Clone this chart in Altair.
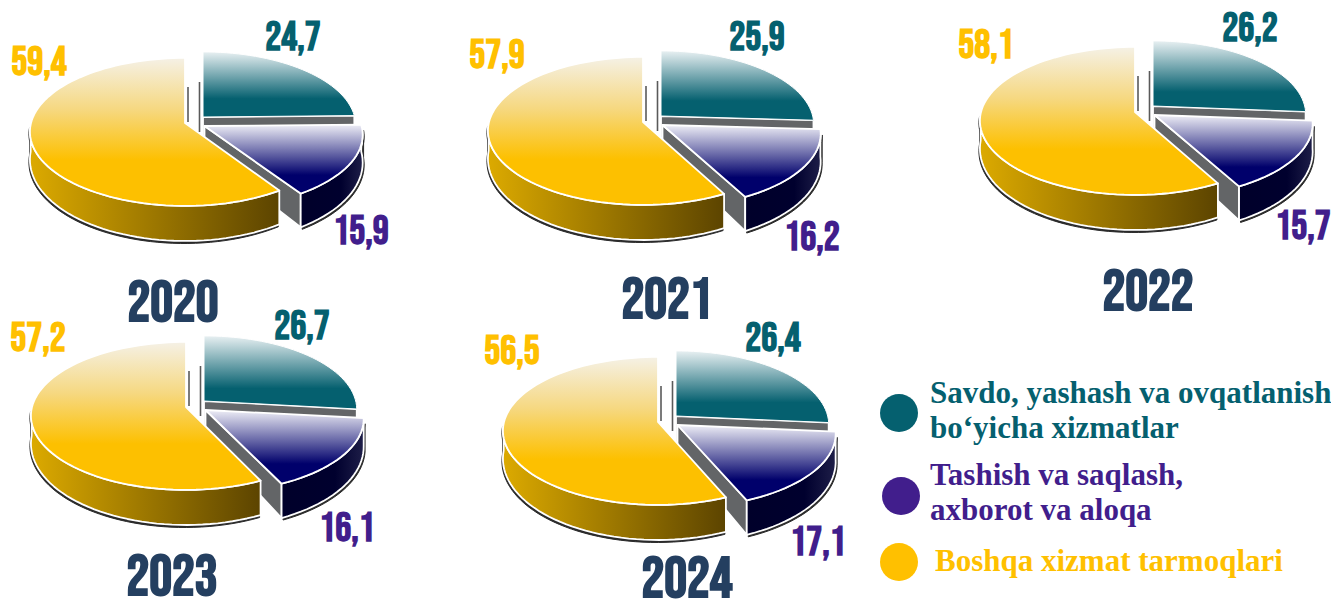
import math
import altair as alt
import pandas as pd

YEARS = ["2020", "2021", "2022", "2023", "2024"]
TRADE = [24.7, 25.9, 26.2, 26.7, 26.4]
TRANSPORT = [15.9, 16.2, 15.7, 16.1, 17.1]
OTHER = [59.4, 57.9, 58.1, 57.2, 56.5]
LEGEND = [
    ["Savdo, yashash va ovqatlanish", "bo‘yicha xizmatlar"],
    ["Tashish va saqlash,", "axborot va aloqa"],
    ["Boshqa xizmat tarmoqlari"],
]

TEAL, PURPLE, GOLD, NAVY = "#05606f", "#411e8c", "#ffc000", "#243f60"

# --- layout (pixel space of the picture) ---
APEX = [(185, 123), (643, 122), (1135, 112), (186, 407), (658, 422)]
TRADE_POS = [(293, 38), (757, 38), (1250, 29), (302, 327), (773, 339)]
OTHER_POS = [(39, 63), (497, 56), (986, 46), (38, 339), (512, 352)]
TRANS_POS = [(361, 232), (812, 238), (1303, 227), (347, 529), (818, 543)]
YEAR_POS = [(173, 303.5), (667, 300.5), (1148, 292.5), (172, 578), (687, 580)]
RX, RY, K, DEPTH = 154, 74, 0.12, 27
OFF_TEAL, OFF_PURPLE = (18, -6), (19.5, 3)
SCALE_TEAL, SCALE_PURPLE = 0.985, 1.02
STEPS = 72


def proj(c, a, s=1.0):
    u, v = math.sin(a), -math.cos(a)
    return c[0] + s * RX * u * (1 + K * v), c[1] + RY * v * (1 + K * v), DEPTH * (1 + 0.3 * v)


def arc(c, a0, a1, s=1.0):
    n = max(2, int(abs(a1 - a0) / (2 * math.pi) * STEPS * 2))
    return [proj(c, a0 + (a1 - a0) * i / n, s) for i in range(n + 1)]


rows = []


def add(face, pie, pts):
    for i, (x, y) in enumerate(pts):
        rows.append({"face": face, "pie": pie, "i": i, "x": x, "y": y})


def wall(face, pie, c, a0, a1, s=1.0, dx=0.0, dy=0.0):
    pts = arc(c, a0, a1, s)
    add(face, pie, [(p[0] + dx, p[1] + dy) for p in pts] +
        [(p[0] + dx, p[1] + p[2] + dy) for p in reversed(pts)])


def top(face, pie, c, a0, a1, s=1.0):
    add(face, pie, [c] + [(p[0], p[1]) for p in arc(c, a0, a1, s)])


def edge(face, pie, c, a, s=1.0):
    p = proj(c, a, s)
    add(face, pie, [c, (p[0], p[1]), (p[0], p[1] + p[2]), (c[0], c[1] + DEPTH)])


for n, y in enumerate(YEARS):
    total = TRADE[n] + TRANSPORT[n] + OTHER[n]
    a1 = 2 * math.pi * TRADE[n] / total
    a2 = a1 + 2 * math.pi * TRANSPORT[n] / total
    c = APEX[n]
    ct = (c[0] + OFF_TEAL[0], c[1] + OFF_TEAL[1])
    cp = (c[0] + OFF_PURPLE[0], c[1] + OFF_PURPLE[1])
    edge("teal_edge", y, ct, a1, SCALE_TEAL)
    top("teal_top", y, ct, 0, a1, SCALE_TEAL)
    wall("shadow", y, cp, a1 + 0.05, a2, SCALE_PURPLE, 1.5, 2)
    wall("shadow", y + "o", c, a2, 1.5 * math.pi - 0.02, 1.0, -1, 2.5)
    edge("purple_edge", y, cp, a2, SCALE_PURPLE)
    wall("purple_wall", y, cp, max(a1, math.pi / 2 * 0.95), a2, SCALE_PURPLE)
    top("purple_top", y, cp, a1, a2, SCALE_PURPLE)
    wall("gold_wall", y, c, a2, 1.5 * math.pi - 0.02)
    top("gold_top", y, c, a2, 2 * math.pi)
    add("line", y + "a", [(c[0] + 3, c[1] - 36), (c[0] + 3, c[1] - 1)])
    add("line", y + "b", [(c[0] + 14.5, c[1] - 41), (c[0] + 14.5, c[1] + 9)])

df = pd.DataFrame(rows)

X = alt.X("x:Q", scale=alt.Scale(domain=[8, 1331], nice=False, zero=False), axis=None)
Y = alt.Y("y:Q", scale=alt.Scale(domain=[8, 601], reverse=True, nice=False, zero=False), axis=None)


def grad(stops, horizontal=False):
    return {
        "gradient": "linear",
        "x1": 0, "y1": 0,
        "x2": 1 if horizontal else 0, "y2": 0 if horizontal else 1,
        "stops": [{"offset": o, "color": col} for o, col in stops],
    }


def face(name, fill, stroke="#ffffff", sw=1.8):
    return (
        alt.Chart(df[df.face == name])
        .mark_line(fill=fill, stroke=stroke, strokeWidth=sw, interpolate="linear-closed", strokeJoin="round")
        .encode(x=X, y=Y, detail="pie:N", order="i:Q")
    )


GREY = "#636567"
layers = [
    face("teal_edge", GREY),
    face("teal_top", grad([(0, "#e8f0f2"), (0.72, TEAL), (1, TEAL)]), sw=1),
    face("shadow", "#2a2a2a", stroke="#2a2a2a", sw=1),
    face("purple_edge", GREY),
    face("purple_wall", grad([(0, "#00002a"), (0.65, "#00002e"), (1, "#1e1e48")], True)),
    face("purple_top", grad([(0, "#eeeef6"), (0.73, "#00006b"), (1, "#00006b")])),
    face("gold_wall", grad([(0, "#dcaa00"), (1, "#5c4400")], True)),
    face("gold_top", grad([(0, "#f5f1e6"), (0.35, "#f6d880"), (0.69, "#fdc000"), (1, "#fdc000")])),
    alt.Chart(df[df.face == "line"]).mark_line(stroke="#5a5a5a", strokeWidth=1.6).encode(
        x=X, y=Y, detail="pie:N", order="i:Q"),
]


def fmt(v):
    return f"{v:.1f}".replace(".", ",")


NUM_FONT = "Bebas Neue"
num_rows = []
for n in range(len(YEARS)):
    for vals, pos, col in ((TRADE, TRADE_POS, TEAL), (OTHER, OTHER_POS, GOLD), (TRANSPORT, TRANS_POS, PURPLE)):
        num_rows.append({"x": pos[n][0], "y": pos[n][1], "t": fmt(vals[n]), "c": col})
layers.append(
    alt.Chart(pd.DataFrame(num_rows))
    .mark_text(font=NUM_FONT, fontWeight="bold", fontSize=40, baseline="middle", align="center")
    .encode(x=X, y=Y, text="t:N", color=alt.Color("c:N", scale=None))
)
layers.append(
    alt.Chart(pd.DataFrame([{"x": p[0], "y": p[1], "t": y} for p, y in zip(YEAR_POS, YEARS)]))
    .mark_text(font=NUM_FONT, fontWeight="bold", fontSize=57, baseline="middle", align="center", color=NAVY)
    .encode(x=X, y=Y, text="t:N")
)

DOTS = [(899, 413, TEAL), (901, 496, PURPLE), (899, 562, GOLD)]
layers.append(
    alt.Chart(pd.DataFrame([{"x": d[0], "y": d[1], "c": d[2]} for d in DOTS]))
    .mark_point(shape="circle", filled=True, size=1444, opacity=1)
    .encode(x=X, y=Y, color=alt.Color("c:N", scale=None))
)
LEG_POS = [[(930, 403), (930, 438)], [(930, 485), (930, 520)], [(935, 571)]]
leg_rows = []
for lines, poss, col in zip(LEGEND, LEG_POS, (TEAL, PURPLE, GOLD)):
    for t, p in zip(lines, poss):
        leg_rows.append({"x": p[0], "y": p[1], "t": t, "c": col})
layers.append(
    alt.Chart(pd.DataFrame(leg_rows))
    .mark_text(font="Liberation Serif", fontWeight="bold", fontSize=31, baseline="alphabetic", align="left")
    .encode(x=X, y=Y, text="t:N", color=alt.Color("c:N", scale=None))
)

chart = (
    alt.layer(*layers)
    .properties(width=1323, height=593, padding=0, autosize=alt.AutoSizeParams(type="none"), background="#ffffff")
    .configure_view(strokeWidth=0)
)
chart.save("out.html", embed_options={"renderer": "svg", "actions": False})
